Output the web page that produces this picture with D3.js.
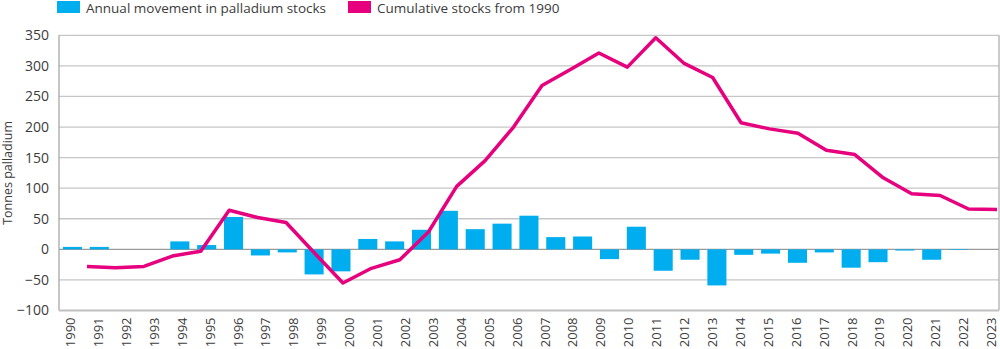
<!DOCTYPE html>
<html>
<head>
<meta charset="utf-8">
<script src="https://cdn.jsdelivr.net/npm/d3@7"></script>
<style>
  body { margin: 0; background: #fff; }
  svg { display: block; font-family: "Open Sans", sans-serif; }
</style>
</head>
<body>
<div id="chart"></div>
<script>
// categories
const years = ["1990", "1991", "1992", "1993", "1994", "1995", "1996", "1997", "1998", "1999",
    "2000", "2001", "2002", "2003", "2004", "2005", "2006", "2007", "2008", "2009",
    "2010", "2011", "2012", "2013", "2014", "2015", "2016", "2017", "2018", "2019",
    "2020", "2021", "2022", "2023"];
// annual movement in palladium stocks (tonnes)
const annualMovement = [4, 4, 0, 0, 13, 7, 53, -10, -5, -41, -36, 17, 13, 32, 63, 33, 42, 55, 20, 21,
    -16, 37, -35, -17, -59, -9, -7, -22, -5, -30, -21, -2, -17, -1];
// cumulative stocks from 1990 (tonnes), plotted from 1991
const cumulativeYears = years.slice(1);
const cumulativeStocks = [-28, -30, -28, -11, -3, 64, 52, 44, -6, -55, -31, -17, 28, 103, 145, 200,
    268, 294, 321, 298, 346, 304, 281, 207, 197, 190, 162, 155, 117, 91, 88, 66, 65];
const yTicks = [-100, -50, 0, 50, 100, 150, 200, 250, 300, 350];
const legendItems = ["Annual movement in palladium stocks", "Cumulative stocks from 1990"];

const width = 1000, height = 349;
const plot = {left: 59, right: 999, top: 35.3, bottom: 310.5};
const blue = "#00aeef", pink = "#e6007e";

const svg = d3.select("#chart")
    .append("svg")
    .attr("width", width)
    .attr("height", height);

let y = d3.scaleLinear()
    .domain([-100, 350])
    .range([plot.bottom, plot.top]);

// bars, line and labels each sit on their own category axis in the original
let xBar = d3.scaleBand()
    .domain(years)
    .range([plot.left, 972])
    .paddingInner(0.29)
    .paddingOuter(0.145);

let xLine = d3.scalePoint()
    .domain(cumulativeYears)
    .range([87, 997]);

let xLabel = d3.scalePoint()
    .domain(years)
    .range([70, 991]);

// gridlines
svg.append("g")
    .selectAll("line")
    .data(yTicks.filter(d => d > -100))
    .enter()
    .append("line")
    .attr("x1", plot.left)
    .attr("x2", plot.right)
    .attr("y1", d => y(d))
    .attr("y2", d => y(d))
    .style("stroke", d => d === 0 ? "#9a9a9a" : "#c6c6c6")
    .style("stroke-width", 1.3);

// frame: left axis, right edge, bottom
svg.append("line")
    .attr("x1", plot.left).attr("x2", plot.left)
    .attr("y1", plot.top).attr("y2", plot.bottom)
    .style("stroke", "#a0a0a0").style("stroke-width", 1.2);
svg.append("line")
    .attr("x1", plot.right).attr("x2", plot.right)
    .attr("y1", plot.top).attr("y2", plot.bottom)
    .style("stroke", "#a8a8a8").style("stroke-width", 1.2);
svg.append("line")
    .attr("x1", plot.left).attr("x2", plot.right)
    .attr("y1", y(-100)).attr("y2", y(-100))
    .style("stroke", "#c0c0c0").style("stroke-width", 2);

// y axis labels
let yAxis = d3.axisLeft(y).tickValues(yTicks).tickSize(0).tickPadding(10);
svg.append("g")
    .attr("transform", "translate(" + plot.left + ",0)")
    .call(yAxis)
    .call(g => g.select(".domain").remove())
    .selectAll("text")
    .style("font-family", "'Open Sans', sans-serif")
    .style("font-size", "14px")
    .style("fill", "#3c3c3c");

svg.append("text")
    .attr("transform", "translate(12," + ((plot.top + plot.bottom) / 2) + ") rotate(-90)")
    .attr("text-anchor", "middle")
    .style("font-size", "12.5px")
    .style("fill", "#3c3c3c")
    .text("Tonnes palladium");

// x axis labels
let xAxis = d3.axisBottom(xLabel).tickSize(0).tickPadding(0);
svg.append("g")
    .attr("transform", "translate(0," + plot.bottom + ")")
    .call(xAxis)
    .call(g => g.select(".domain").remove())
    .selectAll("text")
    .attr("transform", "translate(0,7) rotate(-90)")
    .attr("text-anchor", "end")
    .attr("x", 0)
    .attr("y", 0)
    .attr("dy", "0.35em")
    .style("font-family", "'Open Sans', sans-serif")
    .style("font-size", "13px")
    .style("fill", "#3c3c3c");

// bars
svg.selectAll(".bar")
    .data(years.map((d, i) => [d, annualMovement[i]]))
    .enter()
    .append("rect")
    .classed("bar", true)
    .attr("x", d => xBar(d[0]))
    .attr("width", xBar.bandwidth())
    .attr("y", d => y(Math.max(0, d[1])))
    .attr("height", d => Math.abs(y(d[1]) - y(0)))
    .attr("fill", blue);

// cumulative line
let line = d3.line()
    .x(d => xLine(d[0]))
    .y(d => y(d[1]))
    .curve(d3.curveLinear);

svg.append("path")
    .attr("d", line(cumulativeYears.map((d, i) => [d, cumulativeStocks[i]])))
    .style("fill", "none")
    .style("stroke", pink)
    .style("stroke-width", 3.5)
    .style("stroke-linejoin", "round");

// legend
let legendX = [57, 348];
let legend = svg.selectAll(".legend")
    .data(legendItems)
    .enter()
    .append("g")
    .classed("legend", true)
    .attr("transform", (d, i) => "translate(" + legendX[i] + ",1)");
legend.append("rect")
    .attr("width", 23)
    .attr("height", 12)
    .attr("fill", (d, i) => i === 0 ? blue : pink);
legend.append("text")
    .attr("x", 29)
    .attr("y", 11.5)
    .style("font-size", "13.5px")
    .style("fill", "#3c3c3c")
    .text(d => d);
</script>
</body>
</html>
